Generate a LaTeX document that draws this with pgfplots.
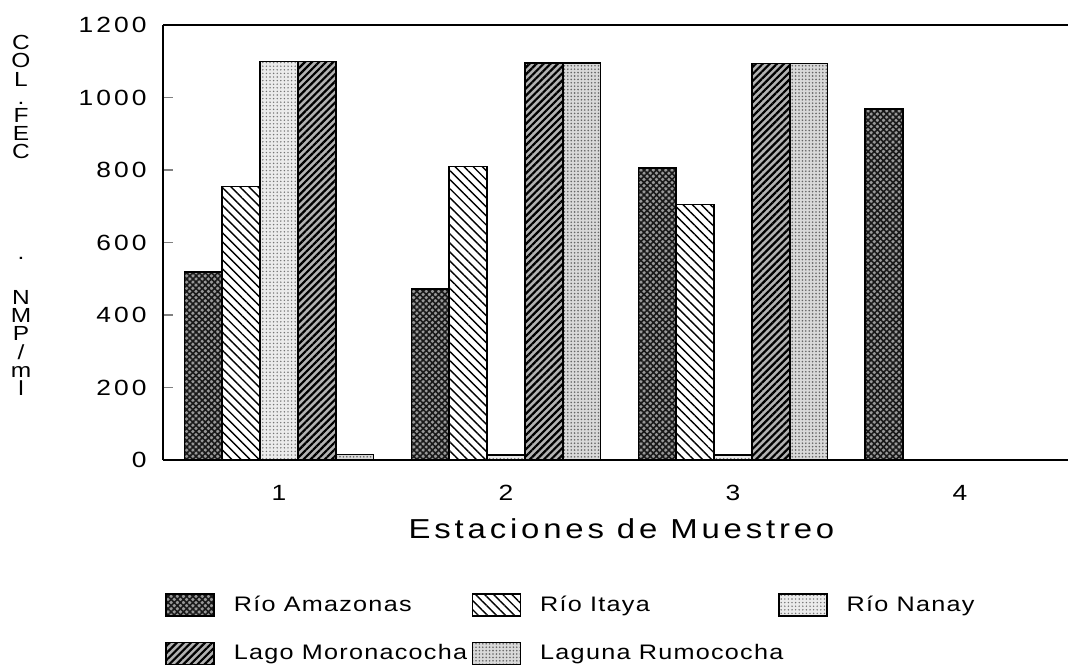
\documentclass[border=0pt]{standalone}
\usepackage{fontspec}
\setmainfont{Liberation Sans}[FakeStretch=1.2, LetterSpace=14]
\newfontfamily\legfont{Liberation Sans}[FakeStretch=1.2, LetterSpace=6]
\newfontfamily\ylabfont{Liberation Sans}[FakeStretch=1.2]
\usepackage{pgfplots}
\pgfplotsset{compat=1.18}
\usetikzlibrary{patterns,patterns.meta}

\begin{document}
\begin{tikzpicture}
\begin{axis}[
  name=ax,
  scale only axis, width=452.5pt, height=217.5pt,
  xmin=0.489, xmax=4.476, ymin=0, ymax=1200,
  axis x line=box, axis y line=left,
  axis line style={-, line width=0.8pt},
  ybar=0pt, bar width=0.167,
  xtick={1,2,3,4}, ytick={0,200,...,1200},
  tick align=inside, major tick length=5pt,
  x tick style={draw=none},
  y tick style={line width=0.8pt},
  /pgf/number format/assume math mode=true,
  /pgf/number format/1000 sep={},
  tick label style={font=\fontsize{11}{13}\selectfont},
  yticklabel style={anchor=east, inner sep=0pt, xshift=-8pt},
  xticklabel style={anchor=center, inner sep=0pt, yshift=-16.5pt},
  xlabel={Estaciones de Muestreo},
  xlabel style={at={(axis description cs:0.5,0)}, anchor=center, yshift=-34.5pt, xshift=3pt, font=\fontsize{13.7}{15}\selectfont},
  legend columns=3,
  legend cell align=left,
  legend image code/.code={\draw[#1,draw=black,line width=0.7pt] (0pt,-5.5pt) rectangle (24pt,5.5pt);},
  legend style={at={(axis description cs:0,0)}, anchor=north west, xshift=1pt, yshift=-66.5pt,
    draw=none, inner sep=0pt, font=\legfont\fontsize{10.5}{12}\selectfont,
    nodes={inner sep=0pt},
    row sep=12.5pt,
    /tikz/every odd column/.append style={column sep=9.5pt}},
]
\addplot[draw=black, line width=0.7pt, preaction={fill=black!40}, pattern={Hatch[angle=45,distance=2.2pt,line width=0.8pt]}, pattern color=black!90]
  coordinates {(1,519) (2,472) (3,805) (4,968)};
\addplot[draw=black, line width=0.7pt, pattern={Lines[angle=-45,distance=3.2pt,line width=0.7pt]}]
  coordinates {(1,754) (2,809) (3,705) (4,0)};
\addplot[draw=black, line width=0.7pt, preaction={fill=black!8}, pattern={Dots[distance=1.8pt,radius=0.4pt]}, pattern color=black!55]
  coordinates {(1,1100) (2,14) (3,14) (4,0)};
\addplot[draw=black, line width=0.7pt, preaction={fill=black!30}, pattern={Lines[angle=45,distance=2.5pt,line width=1.1pt]}]
  coordinates {(1,1100) (2,1095) (3,1093) (4,0)};
\addplot[draw=black, line width=0.7pt, preaction={fill=black!15}, pattern={Dots[distance=1.7pt,radius=0.45pt]}, pattern color=black!60]
  coordinates {(1,16) (2,1095) (3,1093) (4,0)};
\legend{\makebox[119pt][l]{Río Amazonas},\makebox[119pt][l]{Río Itaya},\makebox[119pt][l]{Río Nanay},\makebox[119pt][l]{Lago Moronacocha},\makebox[119pt][l]{Laguna Rumococha}}
\end{axis}
\begin{scope}[every node/.style={anchor=base, inner sep=0pt, font=\ylabfont\fontsize{10.2}{12}\selectfont}]
\node at ([xshift=-71pt,yshift=-12.3pt]ax.north west) {C};
\node at ([xshift=-71pt,yshift=-21.4pt]ax.north west) {O};
\node at ([xshift=-71pt,yshift=-30.5pt]ax.north west) {L};
\node at ([xshift=-71pt,yshift=-39.6pt]ax.north west) {.};
\node at ([xshift=-71pt,yshift=-48.7pt]ax.north west) {F};
\node at ([xshift=-71pt,yshift=-57.8pt]ax.north west) {E};
\node at ([xshift=-71pt,yshift=-66.9pt]ax.north west) {C};
\node at ([xshift=-71pt,yshift=-117pt]ax.north west) {.};
\node at ([xshift=-71pt,yshift=-139.7pt]ax.north west) {N};
\node at ([xshift=-71pt,yshift=-148.8pt]ax.north west) {M};
\node at ([xshift=-71pt,yshift=-157.9pt]ax.north west) {P};
\node at ([xshift=-71pt,yshift=-167.0pt]ax.north west) {/};
\node at ([xshift=-71pt,yshift=-176.1pt]ax.north west) {m};
\node at ([xshift=-71pt,yshift=-185.2pt]ax.north west) {l};
\end{scope}
\pgfresetboundingbox
\path[use as bounding box] (ax.south west) ++(-81.5pt,-105.5pt) rectangle ++(534pt,335.5pt);
\end{tikzpicture}
\end{document}
